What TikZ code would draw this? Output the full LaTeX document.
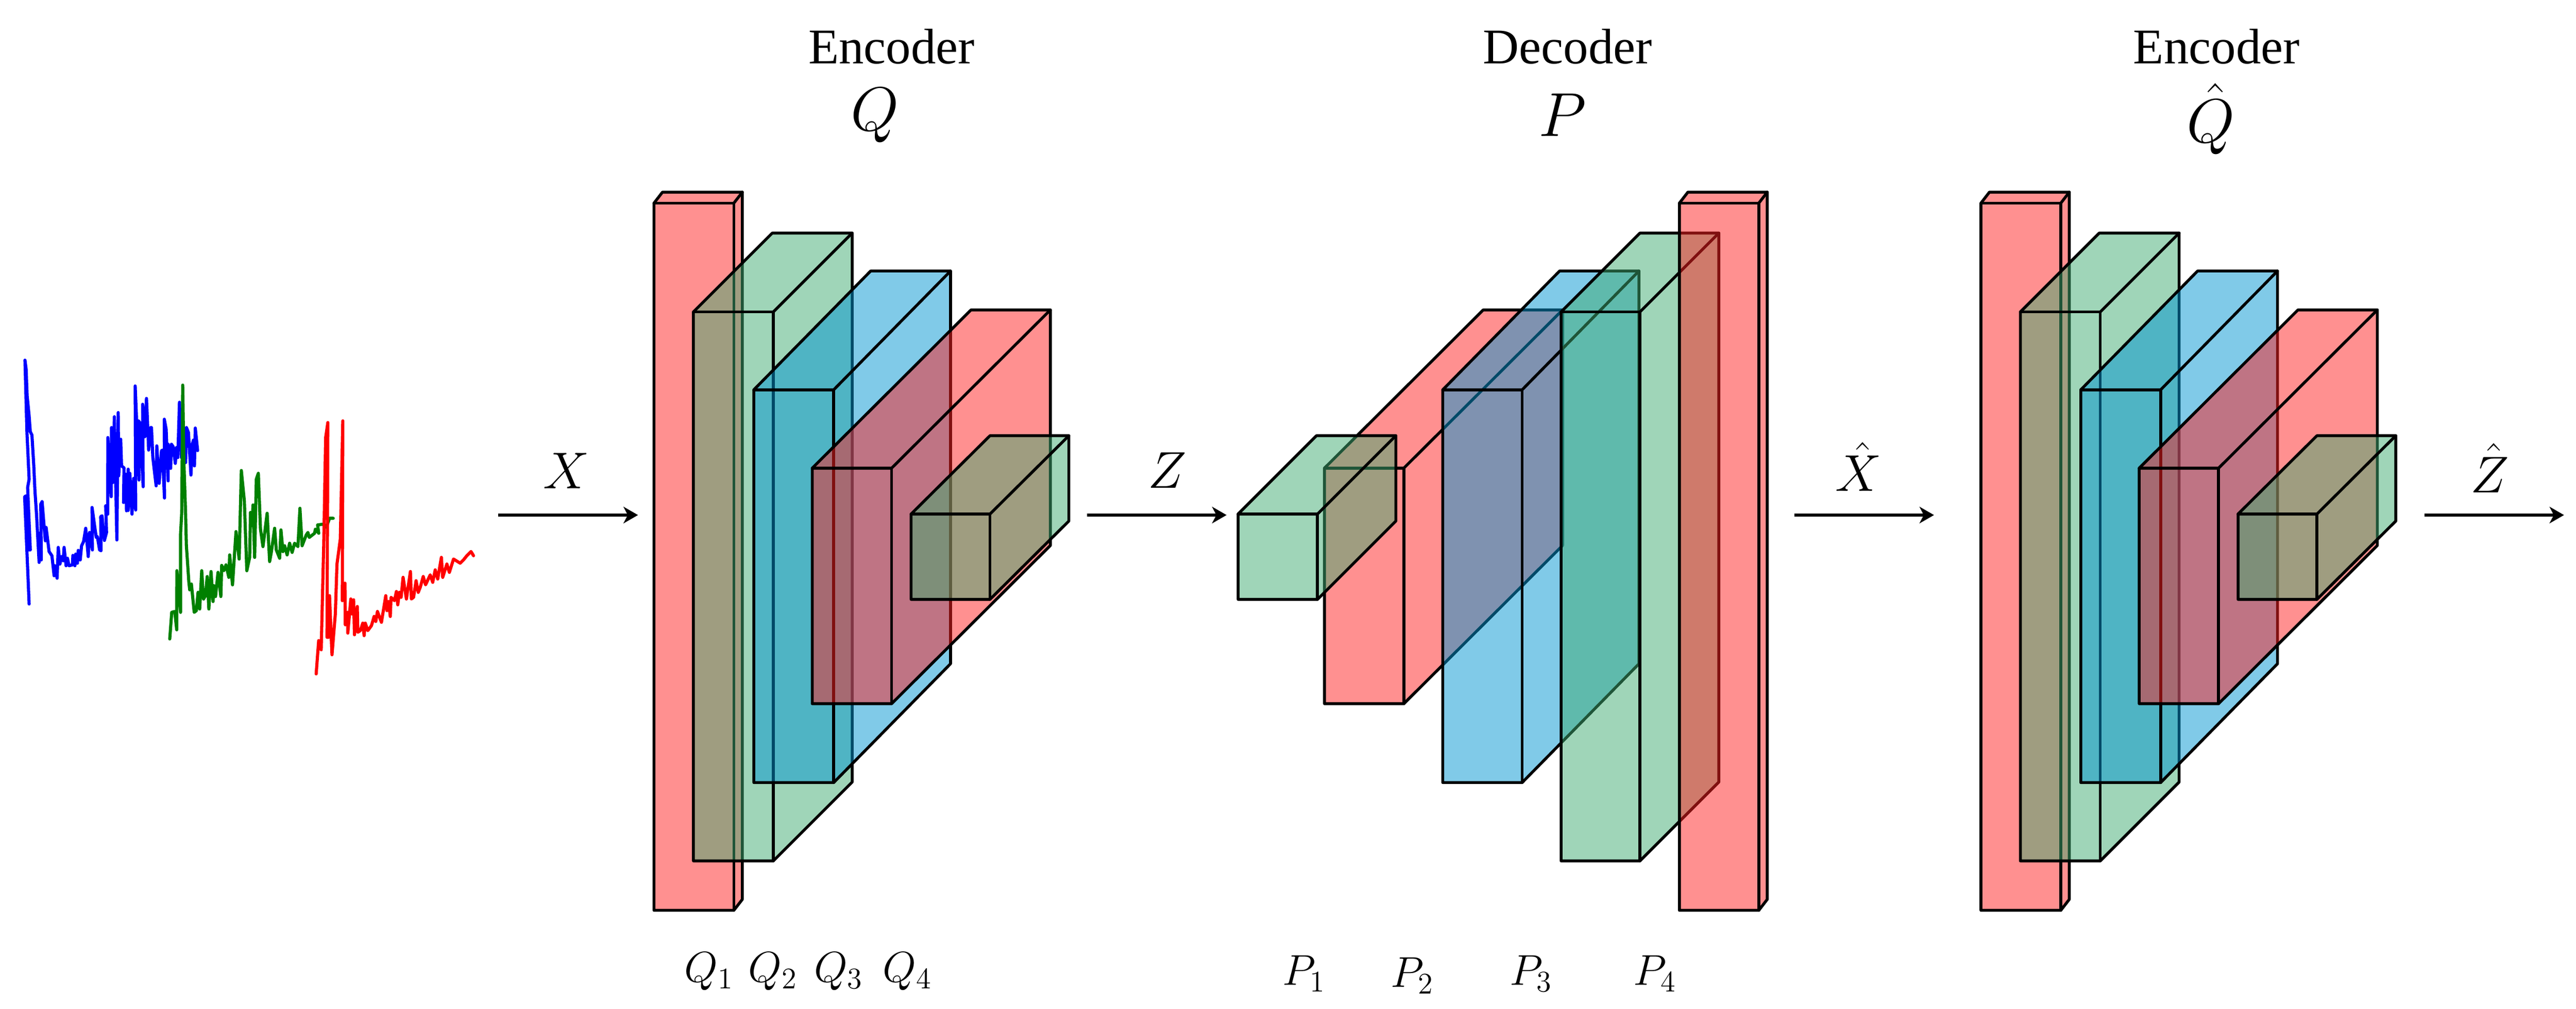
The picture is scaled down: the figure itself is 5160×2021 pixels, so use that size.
\documentclass[tikz,border=0pt]{standalone}
\usepackage{amssymb,amsmath}
\usepackage{fontspec}
\setmainfont{Liberation Serif}
\usetikzlibrary{arrows.meta}
\definecolor{BlockRed}{RGB}{255,33,33}
\definecolor{BlockGreen}{RGB}{63,171,113}
\definecolor{BlockBlue}{RGB}{1,149,209}

\tikzset{pics/Block/.style n args = {6}{code = {
    \fill[#6, fill opacity = 0.5] (0,0) -- (#4,-#5) -- (#2+#4,-#5) -- (#2+#4,#3-#5) -- (#2,#3) -- (0,#3) -- cycle;
    \draw[BlockLineStyle] (0,0) -- (#4,-#5) -- (#2+#4,-#5) -- (#2+#4,#3-#5) -- (#2,#3) -- (0,#3) -- cycle;
    \draw[BlockLineStyle] (0,0) -- (#2,0) -- (#2,#3);
    \draw[BlockLineStyle] (#2,0) -- (#2+#4,-#5);
    \coordinate (#1) at (0,0);
  }}
}

\begin{document}
\begin{tikzpicture}[x=0.2pt,y=-0.2pt]
  \tikzset{BlockLineStyle/.style = {
    draw       = black,
    line width = 1.15pt,
    line join  = round,
    line cap   = round
    }
  }
  \tikzset{ArrowStyle/.style = {
    draw       = black,
    line width = 1.05pt,
    -{Stealth[length=5.8pt,width=6.6pt,inset=1.7pt]}
    }
  }
  \tikzset{SeriesStyle/.style = {
    line width = 1.25pt,
    line join  = round,
    line cap   = round
    }
  }
  \tikzset{TitleStyle/.style = {
    font       = \fontsize{20}{24}\selectfont,
    anchor     = base,
    inner sep  = 0pt
    }
  }
  \tikzset{BigMathStyle/.style = {
    font       = \fontsize{24}{28}\selectfont,
    anchor     = base,
    inner sep  = 0pt
    }
  }
  \tikzset{ArrowLabelStyle/.style = {
    font       = \fontsize{21}{25}\selectfont,
    anchor     = base,
    inner sep  = 0pt
    }
  }
  \tikzset{LayerLabelStyle/.style = {
    font       = \fontsize{18}{22}\selectfont,
    anchor     = base,
    inner sep  = 0pt
    }
  }

  \useasboundingbox (0,0) rectangle (5160,2021);

  % input series
  \draw[SeriesStyle, blue, shift={(30,700)}, x=0.0667pt, y=-0.0667pt] (85,1530) -- (58,885) -- (68,880) -- (85,1205) -- (92,1205) -- (76,830) -- (85,780) -- (72,500) -- (60,65) -- (67,120) -- (73,280) -- (85,400) -- (92,495) -- (102,515) -- (113,700) -- (120,850) -- (130,1000) -- (145,1280) -- (147,1105) -- (158,1265) -- (155,930) -- (163,915) -- (182,1150) -- (187,1070) -- (205,1215) -- (222,1240) -- (235,1360) -- (240,1300) -- (253,1375) -- (260,1190) -- (270,1290) -- (280,1245) -- (290,1270) -- (295,1190) -- (307,1300) -- (315,1255) -- (325,1300) -- (345,1295) -- (348,1238) -- (360,1300) -- (365,1230) -- (375,1285) -- (380,1208) -- (392,1265) -- (400,1180) -- (412,1155) -- (425,1075) -- (440,1245) -- (448,1100) -- (465,1205) -- (463,950) -- (488,1130) -- (495,1125) -- (508,1205) -- (517,1210) -- (515,1005) -- (523,1000) -- (537,1148) -- (550,1100) -- (545,940) -- (557,990) -- (558,530) -- (578,885) -- (580,470) -- (588,800) -- (597,405) -- (612,1145) -- (620,380) -- (623,760) -- (635,540) -- (640,700) -- (655,712) -- (652,920) -- (665,750) -- (670,970) -- (680,720) -- (680,968) -- (690,745) -- (703,990) -- (713,775) -- (725,965) -- (722,220) -- (745,785) -- (742,430) -- (750,440) -- (770,825) -- (767,330) -- (780,525) -- (790,295) -- (803,605) -- (815,470) -- (820,470) -- (828,650) -- (848,820) -- (852,580) -- (866,805) -- (880,610) -- (885,605) -- (898,893) -- (897,420) -- (908,480) -- (920,790) -- (920,570) -- (935,715) -- (940,570) -- (950,585) -- (963,685) -- (970,590) -- (978,650) -- (988,318) -- (1000,650) -- (1015,500) -- (1025,680) -- (1030,470) -- (1042,500) -- (1057,755) -- (1065,570) -- (1072,545) -- (1078,700) -- (1083,473) -- (1097,608);
  \draw[SeriesStyle, green!50!black, shift={(320,760)}, x=0.0667pt, y=-0.0667pt] (60,1560) -- (72,1400) -- (90,1395) -- (102,1505) -- (103,1150) -- (125,1400) -- (125,930) -- (132,800) -- (138,35) -- (145,500) -- (155,800) -- (160,1000) -- (175,1220) -- (180,1265) -- (190,1230) -- (207,1400) -- (220,1390) -- (230,1280) -- (240,1380) -- (252,1150) -- (263,1320) -- (275,1300) -- (285,1185) -- (295,1380) -- (308,1155) -- (320,1335) -- (325,1240) -- (335,1305) -- (350,1160) -- (367,1305) -- (372,1118) -- (385,1150) -- (398,1115) -- (415,1190) -- (420,1055) -- (437,1235) -- (458,915) -- (477,1080) -- (490,548) -- (508,730) -- (523,1150) -- (540,1070) -- (545,800) -- (555,880) -- (560,755) -- (570,1070) -- (580,600) -- (592,565) -- (605,900) -- (620,1005) -- (645,805) -- (660,1095) -- (670,1040) -- (690,895) -- (700,1025) -- (720,1075) -- (728,905) -- (740,1035) -- (750,1000) -- (765,1055) -- (780,985) -- (795,1040) -- (810,985) -- (830,1005) -- (842,775) -- (855,1000) -- (880,935) -- (890,920) -- (898,950) -- (930,925) -- (935,900) -- (955,925) -- (948,875) -- (985,870) -- (1000,890) -- (1020,835) -- (1042,835);
  \draw[SeriesStyle, red, shift={(620,830)}, x=0.0667pt, y=-0.0667pt] (40,1560) -- (55,1360) -- (70,1415) -- (85,800) -- (97,140) -- (110,50) -- (105,1340) -- (115,1340) -- (120,1090) -- (135,1445) -- (155,1200) -- (165,900) -- (185,750) -- (200,40) -- (197,1120) -- (213,1015) -- (215,1265) -- (230,1190) -- (230,1315) -- (248,1110) -- (255,1200) -- (265,1115) -- (270,1325) -- (287,1155) -- (290,1310) -- (305,1300) -- (320,1255) -- (328,1330) -- (335,1255) -- (350,1300) -- (372,1270) -- (388,1215) -- (398,1245) -- (408,1185) -- (432,1250) -- (458,1090) -- (465,1180) -- (475,1125) -- (485,1215) -- (490,1100) -- (510,1120) -- (522,1065) -- (530,1145) -- (540,1070) -- (550,1100) -- (562,980) -- (582,1110) -- (606,945) -- (612,1110) -- (625,1100) -- (640,1000) -- (653,1070) -- (665,1040) -- (683,975) -- (697,1025) -- (725,965) -- (740,1010) -- (755,935) -- (770,990) -- (792,860) -- (800,980) -- (825,900) -- (840,950) -- (865,870) -- (905,895) -- (925,875) -- (945,850) -- (970,825) -- (985,850);

  % encoder Q
  \pic at (1310,407) {Block={Q1}{160}{1417}{17}{22}{BlockRed}};
  \pic at (1389,625) {Block={Q2}{160}{1100}{158}{158}{BlockGreen}};
  \pic at (1510,781) {Block={Q3}{160}{787}{234}{238}{BlockBlue}};
  \pic at (1627,938) {Block={Q4}{159}{472}{318}{317}{BlockRed}};
  \pic at (1825,1030) {Block={Q5}{158}{171}{158}{157}{BlockGreen}};

  % decoder P
  \pic at (2653,938) {Block={P2}{159}{472}{318}{317}{BlockRed}};
  \pic at (2890,781) {Block={P3}{159}{787}{234}{238}{BlockBlue}};
  \pic at (3127,625) {Block={P4}{158}{1100}{158}{158}{BlockGreen}};
  \pic at (3364,407) {Block={P5}{159}{1417}{17}{22}{BlockRed}};
  \pic at (2480,1030) {Block={P1}{159}{171}{157}{157}{BlockGreen}};

  % encoder Q hat
  \pic at (3968,407) {Block={R1}{160}{1417}{17}{22}{BlockRed}};
  \pic at (4047,625) {Block={R2}{160}{1100}{158}{158}{BlockGreen}};
  \pic at (4168,781) {Block={R3}{160}{787}{234}{238}{BlockBlue}};
  \pic at (4285,938) {Block={R4}{159}{472}{318}{317}{BlockRed}};
  \pic at (4483,1030) {Block={R5}{158}{171}{158}{157}{BlockGreen}};

  % arrows
  \coordinate (XStart) at (998,1032);
  \coordinate (XEnd) at (1278,1032);
  \coordinate (ZStart) at (2177,1032);
  \coordinate (ZEnd) at (2457,1032);
  \coordinate (XHatStart) at (3594,1032);
  \coordinate (XHatEnd) at (3874,1032);
  \coordinate (ZHatStart) at (4857,1032);
  \coordinate (ZHatEnd) at (5136,1032);
  \draw[ArrowStyle] (XStart) -- (XEnd);
  \draw[ArrowStyle] (ZStart) -- (ZEnd);
  \draw[ArrowStyle] (XHatStart) -- (XHatEnd);
  \draw[ArrowStyle] (ZHatStart) -- (ZHatEnd);

  \node[ArrowLabelStyle](XLabel) at (1134,979) {$X$};
  \node[ArrowLabelStyle](ZLabel) at (2338,978) {$Z$};
  \node[ArrowLabelStyle](XHatLabel) at (3723,984) {$\hat{X}$};
  \node[ArrowLabelStyle](ZHatLabel) at (4987,987) {$\hat{Z}$};

  % titles
  \node[TitleStyle](EncoderA) at (1786,127) {Encoder};
  \node[TitleStyle](DecoderA) at (3140,127) {Decoder};
  \node[TitleStyle](EncoderB) at (4440,127) {Encoder};
  \node[BigMathStyle](QTitle) at (1753,262) {$Q$};
  \node[BigMathStyle](PTitle) at (3130,273) {$P$};
  \node[BigMathStyle](QHatTitle) at (4428,285) {$\hat{Q}$};

  % layer labels
  \node[LayerLabelStyle](QLabelA) at (1420,1968) {$Q_1$};
  \node[LayerLabelStyle](QLabelB) at (1548,1968) {$Q_2$};
  \node[LayerLabelStyle](QLabelC) at (1680,1968) {$Q_3$};
  \node[LayerLabelStyle](QLabelD) at (1818,1968) {$Q_4$};
  \node[LayerLabelStyle](PLabelA) at (2612,1974) {$P_1$};
  \node[LayerLabelStyle](PLabelB) at (2829,1978) {$P_2$};
  \node[LayerLabelStyle](PLabelC) at (3067,1974) {$P_3$};
  \node[LayerLabelStyle](PLabelD) at (3315,1974) {$P_4$};

\end{tikzpicture}
\end{document}
